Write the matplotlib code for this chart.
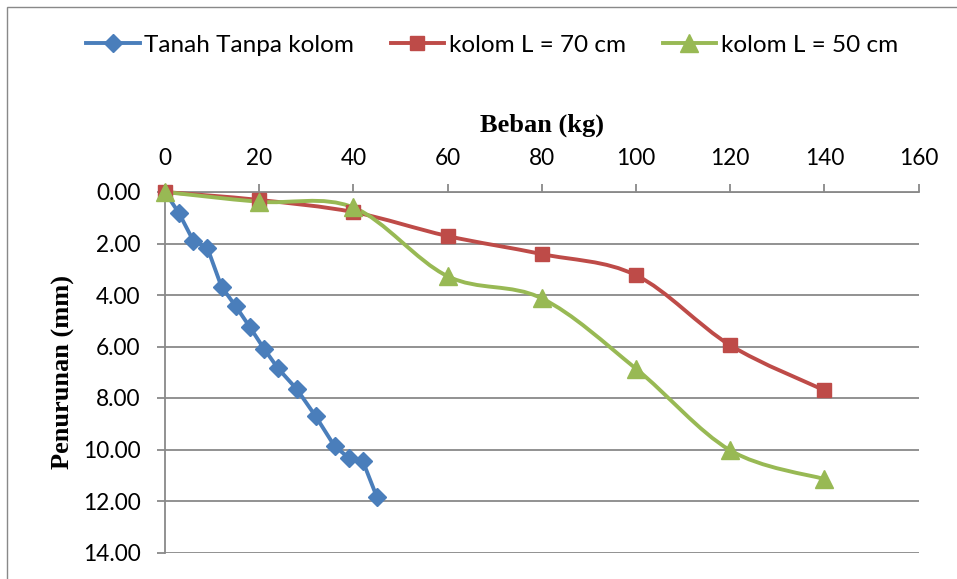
import matplotlib
matplotlib.use("Agg")
import matplotlib.pyplot as plt
from matplotlib.path import Path
from matplotlib.patches import PathPatch, Rectangle
from matplotlib.lines import Line2D
import numpy as np

# ---- data ----
x_tanpa = [0, 3, 6, 9, 12, 15, 18, 21, 24, 28, 32, 36, 39, 42, 45]
y_tanpa = [0.0, 0.83, 1.89, 2.17, 3.68, 4.43, 5.24, 6.08, 6.85, 7.66, 8.71, 9.87, 10.32, 10.45, 11.85]

x_l70 = [0, 20, 40, 60, 80, 100, 120, 140]
y_l70 = [0.0, 0.31, 0.78, 1.71, 2.41, 3.23, 5.95, 7.70]

x_l50 = [0, 20, 40, 60, 80, 100, 120, 140]
y_l50 = [0.0, 0.38, 0.60, 3.27, 4.13, 6.86, 10.03, 11.15]

labels = ["Tanah Tanpa kolom", "kolom L = 70 cm", "kolom L = 50 cm"]
xticks = [0, 20, 40, 60, 80, 100, 120, 140, 160]
yticks = [0, 2, 4, 6, 8, 10, 12, 14]

C_BLUE = "#4A7EBB"
C_RED = "#BE4B48"
C_GREEN = "#98B954"
C_GRID = "#898989"

TICK_FONT = "Lato"
SERIF = "Liberation Serif"
LW = 2.8


def smooth_path(xs, ys, t=1/6):
    P = np.column_stack([xs, ys]).astype(float)
    n = len(P)
    verts = [P[0]]
    codes = [Path.MOVETO]
    for i in range(n - 1):
        p0 = P[i - 1] if i > 0 else P[i]
        p1 = P[i]
        p2 = P[i + 1]
        p3 = P[i + 2] if i + 2 < n else P[i + 1]
        c1 = p1 + (p2 - p0) * t
        c2 = p2 - (p3 - p1) * t
        verts += [c1, c2, p2]
        codes += [Path.CURVE4] * 3
    return Path(verts, codes)


fig = plt.figure(figsize=(9.57, 5.79), dpi=100)
ax = fig.add_axes([165 / 957, 1 - 552.5 / 579, (918.5 - 165) / 957, (552.5 - 192) / 579])

# chart border
fig.patches.append(Rectangle((7.5 / 957, -0.2), 2.0, 1 - 6.5 / 579 + 0.2,
                             transform=fig.transFigure, fill=False,
                             edgecolor=C_GRID, lw=1.0, clip_on=False))

ax.set_xlim(0, 160)
ax.set_ylim(14, 0)
ax.set_xticks(xticks)
ax.set_yticks(yticks)
ax.set_yticklabels([f"{v:.2f}" for v in yticks])
ax.xaxis.tick_top()
ax.xaxis.set_label_position("top")

for s in ["right", "bottom"]:
    ax.spines[s].set_visible(False)
for s in ["left", "top"]:
    ax.spines[s].set_color(C_GRID)
    ax.spines[s].set_linewidth(1.3)

ax.yaxis.grid(True, color=C_GRID, lw=1.3)
ax.set_axisbelow(True)
ax.tick_params(axis="both", colors=C_GRID, length=5.5, width=1.3, labelcolor="black",
               labelsize=16.3)
ax.tick_params(axis="x", pad=11)
ax.tick_params(axis="y", pad=12)
for lab in ax.get_xticklabels() + ax.get_yticklabels():
    lab.set_fontfamily(TICK_FONT)

ax.set_xlabel("Beban (kg)", fontfamily=SERIF, fontweight="bold", fontsize=19, labelpad=12)
ax.set_ylabel("Penurunan (mm)", fontfamily=SERIF, fontweight="bold", fontsize=19, labelpad=6)

# series
ax.plot(x_tanpa, y_tanpa, color=C_BLUE, lw=LW, marker="D", ms=9.5, zorder=3)

for xs, ys, c, m, ms in [(x_l70, y_l70, C_RED, "s", 10), (x_l50, y_l50, C_GREEN, "^", 13)]:
    ax.add_patch(PathPatch(smooth_path(xs, ys), facecolor="none", edgecolor=c, lw=LW,
                           zorder=3, clip_on=False))
    ax.plot(xs, ys, ls="none", marker=m, color=c, ms=ms, zorder=4, clip_on=False)

handles = [
    Line2D([], [], color=C_BLUE, lw=LW, marker="D", ms=9.5),
    Line2D([], [], color=C_RED, lw=LW, marker="s", ms=10),
    Line2D([], [], color=C_GREEN, lw=LW, marker="^", ms=13),
]
leg = fig.legend(handles, labels, loc="center", bbox_to_anchor=(492 / 957, 1 - 45 / 579),
                 ncol=3, frameon=False, handlelength=2.2, handletextpad=0.2,
                 columnspacing=1.5, borderpad=0, prop={"family": TICK_FONT, "size": 17.5})

fig.savefig("out.png", dpi=100)
